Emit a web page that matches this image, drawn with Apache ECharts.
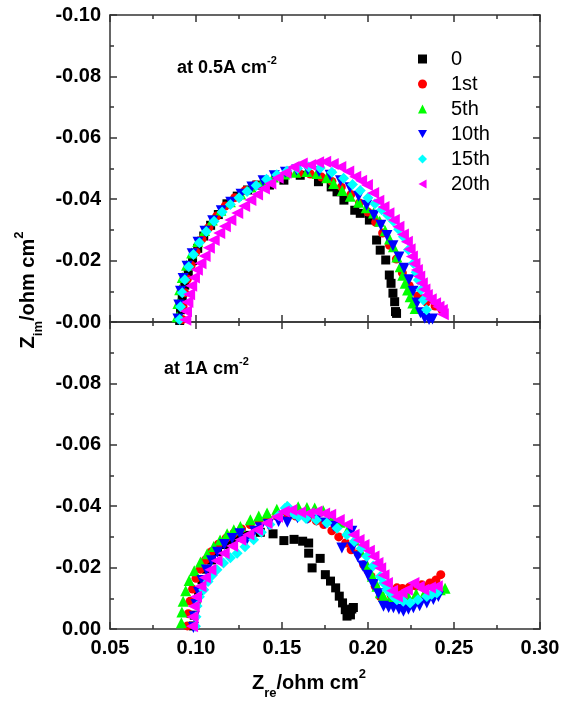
<!DOCTYPE html>
<html>
<head>
<meta charset="utf-8">
<script src="https://cdn.jsdelivr.net/npm/echarts@6/dist/echarts.min.js"></script>
<style>
  html, body { margin: 0; padding: 0; background: #fff; }
  #chart { width: 570px; height: 701px; }
</style>
</head>
<body>
<div id="chart"></div>
<script>
var seriesNames = ['0', '1st', '5th', '10th', '15th', '20th']
var xTickLabels = ['0.05', '0.10', '0.15', '0.20', '0.25', '0.30']
var yTickLabelsTop = ['-0.10', '-0.08', '-0.06', '-0.04', '-0.02', '-0.00']
var yTickLabelsBottom = ['', '-0.08', '-0.06', '-0.04', '-0.02', '0.00']

// at 0.5 A cm-2, [Zre, Zim]
var zero05 = [[0.0905, -0.0005], [0.0910, -0.0040], [0.0920, -0.0080], [0.0935, -0.0120], [0.0955, -0.0160], [0.0980, -0.0200], [0.1010, -0.0240], [0.1045, -0.0280], [0.1085, -0.0315], [0.1130, -0.0350], [0.1180, -0.0385], [0.1240, -0.0410], [0.1300, -0.0430], [0.1353, -0.0446], [0.1427, -0.0446], [0.1511, -0.0462], [0.1606, -0.0478], [0.1712, -0.0457], [0.1786, -0.0440], [0.1820, -0.0424], [0.1860, -0.0397], [0.1923, -0.0364], [0.1955, -0.0354], [0.2008, -0.0332], [0.2050, -0.0267], [0.2071, -0.0234], [0.2103, -0.0202], [0.2124, -0.0153], [0.2134, -0.0126], [0.2145, -0.0094], [0.2155, -0.0066], [0.2160, -0.0034], [0.2166, -0.0028]]
var first05 = [[0.0920, -0.0008], [0.0925, -0.0050], [0.0935, -0.0095], [0.0950, -0.0140], [0.0972, -0.0185], [0.1000, -0.0228], [0.1035, -0.0270], [0.1075, -0.0308], [0.1120, -0.0345], [0.1170, -0.0378], [0.1225, -0.0405], [0.1285, -0.0428], [0.1345, -0.0447], [0.1405, -0.0462], [0.1470, -0.0475], [0.1535, -0.0482], [0.1600, -0.0485], [0.1665, -0.0482], [0.1730, -0.0472], [0.1790, -0.0458], [0.1845, -0.0440], [0.1900, -0.0415], [0.1950, -0.0388], [0.2000, -0.0358], [0.2045, -0.0325], [0.2085, -0.0290], [0.2125, -0.0250], [0.2165, -0.0205], [0.2200, -0.0160], [0.2240, -0.0118], [0.2290, -0.0085], [0.2340, -0.0065], [0.2390, -0.0052], [0.2430, -0.0040]]
var fifth05 = [[0.0890, -0.0017], [0.0895, -0.0060], [0.0905, -0.0105], [0.0920, -0.0145], [0.0945, -0.0185], [0.0975, -0.0225], [0.1010, -0.0262], [0.1050, -0.0298], [0.1095, -0.0332], [0.1145, -0.0364], [0.1200, -0.0392], [0.1260, -0.0417], [0.1320, -0.0440], [0.1385, -0.0458], [0.1450, -0.0472], [0.1515, -0.0482], [0.1580, -0.0488], [0.1645, -0.0490], [0.1703, -0.0484], [0.1760, -0.0470], [0.1800, -0.0451], [0.1850, -0.0428], [0.1897, -0.0410], [0.1945, -0.0390], [0.1990, -0.0372], [0.2032, -0.0355], [0.2068, -0.0328], [0.2100, -0.0297], [0.2125, -0.0270], [0.2148, -0.0245], [0.2168, -0.0212], [0.2187, -0.0180], [0.2202, -0.0152], [0.2216, -0.0126], [0.2230, -0.0104], [0.2245, -0.0082], [0.2260, -0.0062], [0.2274, -0.0044]]
var tenth05 = [[0.0895, -0.0010], [0.0900, -0.0055], [0.0910, -0.0100], [0.0925, -0.0142], [0.0948, -0.0182], [0.0978, -0.0222], [0.1012, -0.0260], [0.1052, -0.0296], [0.1097, -0.0330], [0.1147, -0.0362], [0.1202, -0.0390], [0.1262, -0.0416], [0.1325, -0.0440], [0.1390, -0.0460], [0.1455, -0.0476], [0.1520, -0.0488], [0.1585, -0.0495], [0.1650, -0.0496], [0.1715, -0.0490], [0.1780, -0.0478], [0.1840, -0.0460], [0.1895, -0.0437], [0.1945, -0.0410], [0.1992, -0.0380], [0.2035, -0.0348], [0.2075, -0.0315], [0.2110, -0.0282], [0.2145, -0.0248], [0.2180, -0.0212], [0.2210, -0.0175], [0.2238, -0.0138], [0.2262, -0.0100], [0.2285, -0.0062], [0.2305, -0.0030], [0.2330, -0.0012], [0.2355, -0.0008], [0.2375, -0.0010]]
var fifteenth05 = [[0.0905, -0.0008], [0.0910, -0.0050], [0.0920, -0.0095], [0.0935, -0.0138], [0.0958, -0.0180], [0.0985, -0.0220], [0.1020, -0.0258], [0.1060, -0.0295], [0.1105, -0.0328], [0.1152, -0.0358], [0.1200, -0.0383], [0.1250, -0.0405], [0.1297, -0.0425], [0.1350, -0.0445], [0.1410, -0.0465], [0.1470, -0.0480], [0.1529, -0.0492], [0.1590, -0.0500], [0.1655, -0.0505], [0.1722, -0.0502], [0.1790, -0.0488], [0.1858, -0.0468], [0.1910, -0.0448], [0.1955, -0.0428], [0.2000, -0.0405], [0.2040, -0.0385], [0.2080, -0.0366], [0.2115, -0.0348], [0.2148, -0.0328], [0.2178, -0.0302], [0.2206, -0.0278], [0.2235, -0.0235], [0.2264, -0.0191], [0.2280, -0.0162], [0.2293, -0.0137], [0.2308, -0.0105], [0.2322, -0.0072], [0.2340, -0.0040]]
var twentieth05 = [[0.0938, -0.0007], [0.0942, -0.0035], [0.0950, -0.0065], [0.0960, -0.0090], [0.0972, -0.0118], [0.0988, -0.0145], [0.1005, -0.0170], [0.1026, -0.0191], [0.1050, -0.0215], [0.1075, -0.0242], [0.1103, -0.0267], [0.1135, -0.0290], [0.1168, -0.0312], [0.1200, -0.0332], [0.1240, -0.0355], [0.1280, -0.0378], [0.1316, -0.0397], [0.1355, -0.0415], [0.1395, -0.0435], [0.1432, -0.0451], [0.1475, -0.0470], [0.1520, -0.0486], [0.1567, -0.0505], [0.1615, -0.0516], [0.1664, -0.0511], [0.1710, -0.0520], [0.1751, -0.0522], [0.1795, -0.0515], [0.1839, -0.0505], [0.1885, -0.0490], [0.1926, -0.0473], [0.1960, -0.0460], [0.1994, -0.0446], [0.2030, -0.0420], [0.2060, -0.0395], [0.2090, -0.0375], [0.2119, -0.0354], [0.2150, -0.0332], [0.2177, -0.0310], [0.2203, -0.0285], [0.2226, -0.0261], [0.2242, -0.0237], [0.2255, -0.0213], [0.2270, -0.0190], [0.2284, -0.0169], [0.2298, -0.0148], [0.2313, -0.0126], [0.2328, -0.0106], [0.2342, -0.0088], [0.2365, -0.0074], [0.2390, -0.0061], [0.2410, -0.0050], [0.2429, -0.0039], [0.2435, -0.0025]]

// at 1 A cm-2
var zero1 = [[0.0985, -0.0010], [0.0990, -0.0045], [0.1000, -0.0085], [0.1015, -0.0125], [0.1035, -0.0160], [0.1060, -0.0195], [0.1090, -0.0225], [0.1125, -0.0252], [0.1165, -0.0275], [0.1210, -0.0290], [0.1255, -0.0298], [0.1300, -0.0305], [0.1374, -0.0315], [0.1448, -0.0310], [0.1511, -0.0288], [0.1570, -0.0292], [0.1620, -0.0286], [0.1655, -0.0280], [0.1655, -0.0247], [0.1675, -0.0199], [0.1722, -0.0230], [0.1752, -0.0177], [0.1782, -0.0156], [0.1812, -0.0134], [0.1833, -0.0107], [0.1852, -0.0085], [0.1868, -0.0063], [0.1878, -0.0042], [0.1898, -0.0046], [0.1906, -0.0065], [0.1915, -0.0070]]
var first1 = [[0.0950, -0.0010], [0.0955, -0.0050], [0.0965, -0.0090], [0.0980, -0.0130], [0.1000, -0.0165], [0.1025, -0.0195], [0.1055, -0.0225], [0.1090, -0.0252], [0.1130, -0.0276], [0.1175, -0.0296], [0.1220, -0.0312], [0.1265, -0.0326], [0.1315, -0.0340], [0.1365, -0.0352], [0.1415, -0.0362], [0.1470, -0.0368], [0.1525, -0.0370], [0.1580, -0.0368], [0.1649, -0.0360], [0.1700, -0.0352], [0.1743, -0.0340], [0.1790, -0.0320], [0.1830, -0.0300], [0.1870, -0.0280], [0.1902, -0.0258], [0.1944, -0.0245], [0.1975, -0.0209], [0.2000, -0.0190], [0.2018, -0.0171], [0.2042, -0.0139], [0.2071, -0.0106], [0.2103, -0.0085], [0.2135, -0.0110], [0.2168, -0.0134], [0.2200, -0.0132], [0.2240, -0.0136], [0.2280, -0.0140], [0.2313, -0.0144], [0.2360, -0.0150], [0.2395, -0.0160], [0.2423, -0.0177]]
var fifth1 = [[0.0915, -0.0020], [0.0918, -0.0055], [0.0925, -0.0090], [0.0940, -0.0125], [0.0960, -0.0158], [0.0990, -0.0190], [0.1026, -0.0218], [0.1065, -0.0245], [0.1103, -0.0269], [0.1140, -0.0290], [0.1181, -0.0310], [0.1220, -0.0323], [0.1258, -0.0334], [0.1316, -0.0356], [0.1365, -0.0368], [0.1413, -0.0378], [0.1470, -0.0390], [0.1529, -0.0399], [0.1594, -0.0398], [0.1645, -0.0396], [0.1690, -0.0394], [0.1740, -0.0385], [0.1790, -0.0368], [0.1838, -0.0348], [0.1880, -0.0320], [0.1920, -0.0290], [0.1955, -0.0255], [0.1993, -0.0210], [0.2025, -0.0172], [0.2052, -0.0139], [0.2072, -0.0118], [0.2090, -0.0106], [0.2130, -0.0100], [0.2180, -0.0105], [0.2230, -0.0110], [0.2280, -0.0115], [0.2330, -0.0118], [0.2380, -0.0122], [0.2420, -0.0128], [0.2448, -0.0133]]
var tenth1 = [[0.0985, -0.0005], [0.0990, -0.0040], [0.1000, -0.0080], [0.1015, -0.0120], [0.1035, -0.0158], [0.1060, -0.0192], [0.1090, -0.0222], [0.1125, -0.0250], [0.1165, -0.0275], [0.1210, -0.0295], [0.1255, -0.0310], [0.1297, -0.0292], [0.1340, -0.0318], [0.1374, -0.0330], [0.1420, -0.0340], [0.1480, -0.0350], [0.1531, -0.0348], [0.1590, -0.0362], [0.1650, -0.0360], [0.1700, -0.0355], [0.1750, -0.0345], [0.1800, -0.0335], [0.1848, -0.0264], [0.1906, -0.0318], [0.1910, -0.0265], [0.1940, -0.0235], [0.1970, -0.0205], [0.2000, -0.0175], [0.2030, -0.0145], [0.2060, -0.0115], [0.2090, -0.0074], [0.2120, -0.0070], [0.2148, -0.0069], [0.2180, -0.0064], [0.2206, -0.0058], [0.2235, -0.0064], [0.2264, -0.0069], [0.2300, -0.0076], [0.2342, -0.0085], [0.2380, -0.0096], [0.2409, -0.0106]]
var fifteenth1 = [[0.0997, -0.0009], [0.1000, -0.0040], [0.1006, -0.0075], [0.1020, -0.0105], [0.1045, -0.0128], [0.1070, -0.0155], [0.1095, -0.0175], [0.1122, -0.0193], [0.1160, -0.0215], [0.1200, -0.0232], [0.1239, -0.0247], [0.1285, -0.0268], [0.1335, -0.0291], [0.1380, -0.0315], [0.1430, -0.0340], [0.1480, -0.0370], [0.1519, -0.0394], [0.1532, -0.0399], [0.1570, -0.0375], [0.1596, -0.0366], [0.1640, -0.0360], [0.1700, -0.0355], [0.1761, -0.0345], [0.1820, -0.0328], [0.1877, -0.0307], [0.1920, -0.0285], [0.1960, -0.0262], [0.1993, -0.0236], [0.2030, -0.0205], [0.2071, -0.0171], [0.2090, -0.0150], [0.2110, -0.0128], [0.2140, -0.0110], [0.2168, -0.0095], [0.2205, -0.0090], [0.2245, -0.0085], [0.2290, -0.0095], [0.2342, -0.0106], [0.2370, -0.0112], [0.2400, -0.0117]]
var twentieth1 = [[0.0977, -0.0009], [0.0980, -0.0040], [0.0987, -0.0074], [0.1000, -0.0105], [0.1026, -0.0139], [0.1052, -0.0168], [0.1084, -0.0193], [0.1120, -0.0222], [0.1161, -0.0247], [0.1210, -0.0270], [0.1258, -0.0291], [0.1305, -0.0308], [0.1355, -0.0323], [0.1410, -0.0345], [0.1471, -0.0366], [0.1510, -0.0383], [0.1554, -0.0388], [0.1605, -0.0380], [0.1655, -0.0377], [0.1701, -0.0383], [0.1745, -0.0376], [0.1780, -0.0372], [0.1830, -0.0355], [0.1877, -0.0340], [0.1916, -0.0307], [0.1945, -0.0290], [0.1974, -0.0274], [0.2005, -0.0255], [0.2032, -0.0236], [0.2055, -0.0215], [0.2071, -0.0198], [0.2090, -0.0175], [0.2110, -0.0150], [0.2140, -0.0125], [0.2168, -0.0106], [0.2195, -0.0118], [0.2226, -0.0128], [0.2264, -0.0150], [0.2295, -0.0138], [0.2322, -0.0128], [0.2360, -0.0135], [0.2400, -0.0139]]

var panel05 = [zero05, first05, fifth05, tenth05, fifteenth05, twentieth05]
var panel1 = [zero1, first1, fifth1, tenth1, fifteenth1, twentieth1]

var markers = [
  { symbol: 'rect', size: 9, color: '#000000' },
  { symbol: 'circle', size: 9, color: '#ff0000' },
  { symbol: 'triangle', size: 11, color: '#00ff00' },
  { symbol: 'path://M0,0L10,0L5,9Z', size: 11, color: '#0000ff' },
  { symbol: 'diamond', size: 11, color: '#00ffff' },
  { symbol: 'path://M9,0L9,10L0,5Z', size: 12, color: '#ff00ff' }
]

var fontFamily = 'Liberation Sans, Arial, sans-serif'
var edge = { color: '#333', width: 1.5 }

function xAxisFor(gridIndex, position, showLabel) {
  return {
    type: 'value',
    gridIndex: gridIndex,
    position: position,
    min: 0.05,
    max: 0.30,
    interval: 0.05,
    axisLine: { show: true, onZero: false, lineStyle: edge },
    axisTick: { show: true, inside: true, length: 7, lineStyle: edge },
    minorTick: { show: true, splitNumber: 2, length: 4, lineStyle: edge },
    splitLine: { show: false },
    axisLabel: {
      show: showLabel,
      margin: 9,
      color: '#000',
      fontFamily: fontFamily,
      fontWeight: 'bold',
      fontSize: 20,
      formatter: function(v) {
        return xTickLabels[Math.round((v - 0.05) / 0.05)]
      }
    }
  }
}

function yAxisFor(gridIndex, position, labels) {
  return {
    type: 'value',
    gridIndex: gridIndex,
    position: position,
    min: -0.10,
    max: 0,
    interval: 0.02,
    inverse: true,
    axisLine: { show: true, onZero: false, lineStyle: edge },
    axisTick: { show: true, inside: true, length: 7, lineStyle: edge },
    minorTick: { show: true, splitNumber: 2, length: 4, lineStyle: edge },
    splitLine: { show: false },
    axisLabel: {
      show: !!labels,
      margin: 9,
      color: '#000',
      fontFamily: fontFamily,
      fontWeight: 'bold',
      fontSize: 20,
      formatter: function(v) {
        return labels ? labels[Math.round((v + 0.10) / 0.02)] : ''
      }
    }
  }
}

function buildSeries(panel, axisIndex) {
  return panel.map(function(data, i) {
    var m = markers[i]
    return {
      name: seriesNames[i],
      type: 'scatter',
      xAxisIndex: axisIndex,
      yAxisIndex: axisIndex,
      data: data,
      symbol: m.symbol,
      symbolSize: m.size,
      itemStyle: { color: m.color, opacity: 1 },
      emphasis: { disabled: true }
    }
  })
}

var titleRich = {
  b: { fontFamily: fontFamily, fontWeight: 'bold', fontSize: 20, fill: '#000' },
  sub: { fontFamily: fontFamily, fontWeight: 'bold', fontSize: 13, fill: '#000', padding: [20, 0, 0, 0] },
  sup: { fontFamily: fontFamily, fontWeight: 'bold', fontSize: 13, fill: '#000', padding: [0, 0, 17, 0] }
}
var noteRich = {
  b: { fontFamily: fontFamily, fontWeight: 'bold', fontSize: 18, fill: '#000' },
  sup: { fontFamily: fontFamily, fontWeight: 'bold', fontSize: 11, fill: '#000', padding: [0, 0, 14, 0] }
}

var chart = echarts.init(document.getElementById('chart'))
chart.setOption({
  animation: false,
  backgroundColor: '#fff',
  grid: [
    { left: 110, top: 15, width: 430, height: 307 },
    { left: 110, top: 322, width: 430, height: 307 }
  ],
  xAxis: [
    xAxisFor(0, 'bottom', false),
    xAxisFor(1, 'bottom', true),
    xAxisFor(0, 'top', false),
    xAxisFor(1, 'top', false)
  ],
  yAxis: [
    yAxisFor(0, 'left', yTickLabelsTop),
    yAxisFor(1, 'left', yTickLabelsBottom),
    yAxisFor(0, 'right', null),
    yAxisFor(1, 'right', null)
  ],
  legend: {
    orient: 'vertical',
    left: 413,
    top: 44,
    itemWidth: 9,
    itemHeight: 9,
    itemGap: 5,
    selectedMode: false,
    data: seriesNames,
    textStyle: { fontFamily: fontFamily, fontSize: 20, color: '#000', lineHeight: 20, padding: [0, 0, 0, 19] }
  },
  graphic: [
    {
      type: 'text', x: 28, y: 290, rotation: Math.PI / 2,
      style: { text: '{b|Z}{sub|im}{b|/ohm cm}{sup|2}', rich: titleRich, align: 'center', verticalAlign: 'middle' }
    },
    {
      type: 'text', x: 309, y: 683,
      style: { text: '{b|Z}{sub|re}{b|/ohm cm}{sup|2}', rich: titleRich, align: 'center', verticalAlign: 'middle' }
    },
    {
      type: 'text', x: 177, y: 68,
      style: { text: '{b|at 0.5A cm}{sup|-2}', rich: noteRich, align: 'left', verticalAlign: 'middle' }
    },
    {
      type: 'text', x: 164, y: 369,
      style: { text: '{b|at 1A cm}{sup|-2}', rich: noteRich, align: 'left', verticalAlign: 'middle' }
    }
  ],
  series: buildSeries(panel05, 0).concat(buildSeries(panel1, 1))
})
</script>
</body>
</html>
